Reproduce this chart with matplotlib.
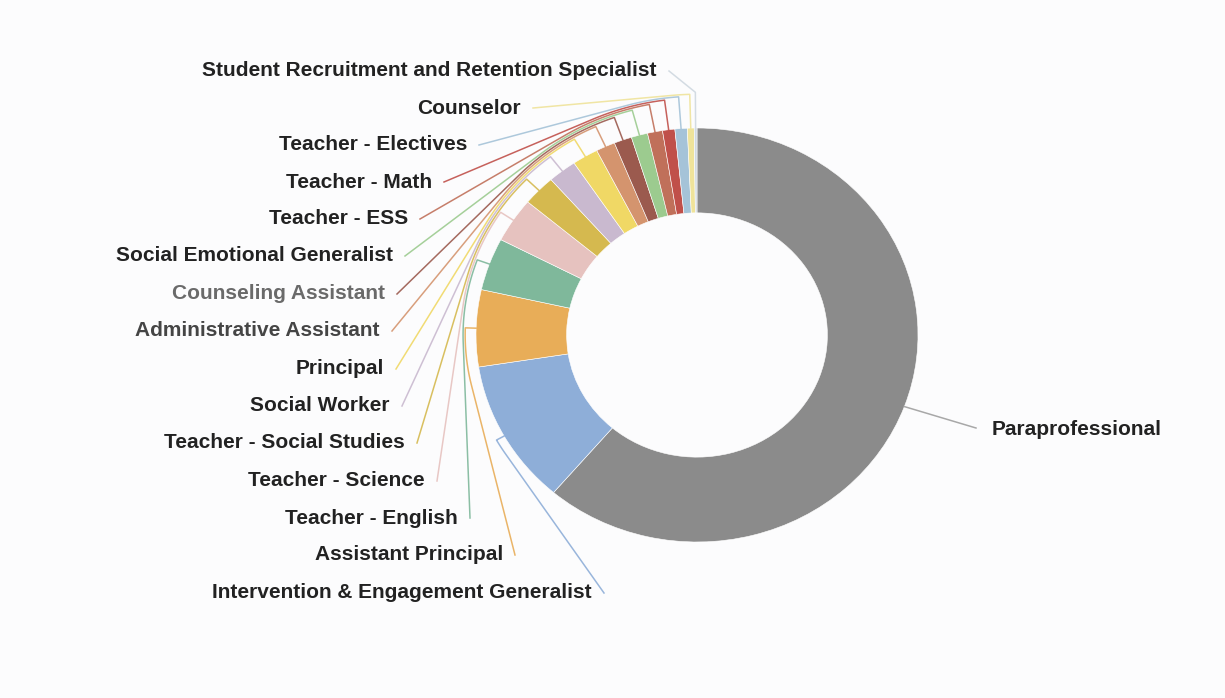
import numpy as np
import matplotlib.pyplot as plt

plt.rcParams['font.family'] = ['Liberation Sans', 'DejaVu Sans']

# slices in drawing order (clockwise from 12 o'clock), share of staff in %
roles = [
    'Paraprofessional',
    'Intervention & Engagement Generalist',
    'Assistant Principal',
    'Teacher - English',
    'Teacher - Science',
    'Teacher - Social Studies',
    'Social Worker',
    'Principal',
    'Administrative Assistant',
    'Counseling Assistant',
    'Social Emotional Generalist',
    'Teacher - ESS',
    'Teacher - Math',
    'Teacher - Electives',
    'Counselor',
    'Student Recruitment and Retention Specialist',
]
share = [61.3, 11.3, 6.0, 4.1, 3.5, 2.4, 2.1, 1.9, 1.4, 1.3, 1.2, 1.1,
         0.9, 0.9, 0.5, 0.2]
colors = ['#8b8b8b', '#8eaed8', '#e8ad58', '#7fb89b', '#e6c2bf', '#d5b94f',
          '#c9b9cf', '#f0d865', '#d4946e', '#9b5a4e', '#9ccb8f', '#c0705a',
          '#c0504a', '#a5c3d8', '#efe39a', '#cfd8e0']

# label layout in pixels: (right edge x, centre y)
label_px = [
    (992, 430),   # Paraprofessional (left edge, right side)
    (592, 593), (503, 555), (458, 518), (425, 481), (405, 443), (390, 406),
    (384, 369), (380, 331), (385, 294), (393, 256), (408, 219), (432, 182),
    (467, 145), (521, 108), (657, 71),
]
text_col = ['#222222'] * 16
text_col[9] = '#6a6a6a'
text_col[8] = '#454545'

W, H = 1225, 698
cx, cy = 697, 335
rx, ry = 221, 207


def to_data(x, y):
    return (x - cx) / rx, (cy - y) / ry


fig = plt.figure(figsize=(W / 100, H / 100), dpi=100, facecolor='#fcfcfd')
ax = fig.add_axes([0, 0, 1, 1])
ax.set_facecolor('#fcfcfd')
wedges, _ = ax.pie(share, colors=colors, startangle=90, counterclock=False,
                   radius=1.0,
                   wedgeprops=dict(width=0.41, edgecolor='white',
                                   linewidth=0.4))
ax.set_aspect('auto')
ax.set_xlim(-cx / rx, (W - cx) / rx)
ax.set_ylim(-(H - cy) / ry, cy / ry)
ax.axis('off')

for i, w in enumerate(wedges):
    mid = np.deg2rad(((w.theta1 + w.theta2) / 2.0) % 360)
    lx, ly = label_px[i]
    if i == 0:
        ax.text(*to_data(lx, ly), roles[i], ha='left', va='center',
                fontsize=15, fontweight='bold', color=text_col[i])
        px, py = to_data(lx - 16, ly - 2)
        ax.plot([np.cos(mid) * 1.0, px], [np.sin(mid) * 1.0, py],
                color='#a8a8a8', lw=1.1)
        continue
    ax.text(*to_data(lx, ly), roles[i], ha='right', va='center',
            fontsize=15, fontweight='bold', color=text_col[i])
    # leader: label -> tangent on outer circle -> arc -> radial tick to slice
    R = 1.03 + 0.0095 * i
    P = np.array(to_data(lx + 12, ly))
    d = np.hypot(*P)
    aP = np.arctan2(P[1], P[0]) % (2 * np.pi)
    t = aP - np.arccos(min(R / d, 1.0))
    xs, ys = [P[0]], [P[1]]
    if t > mid:
        arc = np.linspace(t, mid, 40)
        xs += list(R * np.cos(arc))
        ys += list(R * np.sin(arc))
    else:
        xs.append(R * np.cos(mid))
        ys.append(R * np.sin(mid))
    xs.append(1.0 * np.cos(mid))
    ys.append(1.0 * np.sin(mid))
    ax.plot(xs, ys, color=colors[i], lw=1.1, alpha=0.9)

fig.savefig('out.png', dpi=100, facecolor=fig.get_facecolor())
